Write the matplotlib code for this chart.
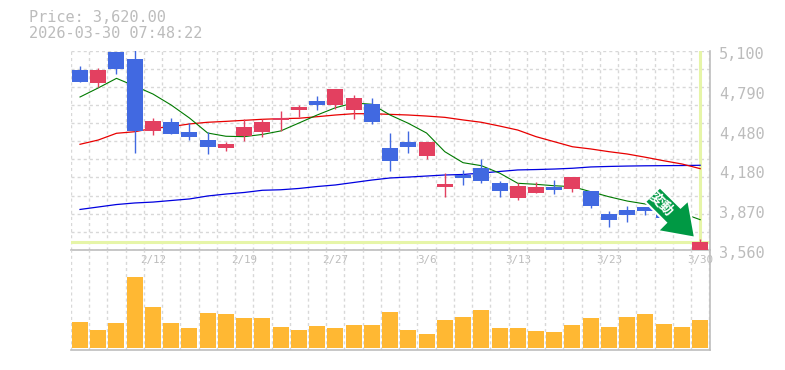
import matplotlib
matplotlib.use('Agg')
import matplotlib.pyplot as plt
from matplotlib.patches import Polygon

W, H = 785, 370

dates = ['2/5', '2/6', '2/9', '2/10', '2/12', '2/13', '2/16', '2/17', '2/18', '2/19',
         '2/20', '2/24', '2/25', '2/26', '2/27', '3/2', '3/3', '3/4', '3/5', '3/6',
         '3/9', '3/10', '3/11', '3/12', '3/13', '3/16', '3/17', '3/18', '3/19', '3/23',
         '3/24', '3/25', '3/26', '3/27', '3/30']
opens = [4950, 4849, 5088, 5034, 4479, 4548, 4471, 4409, 4347, 4440,
         4471, 4564, 4641, 4710, 4679, 4641, 4687, 4347, 4394, 4286,
         4046, 4139, 4193, 4077, 3961, 4000, 4046, 4031, 4015, 3838,
         3869, 3892, 3850, 3720, 3560]
highs = [4980, 4963, 5088, 5104, 4579, 4579, 4540, 4471, 4394, 4571,
         4571, 4633, 4679, 4749, 4803, 4757, 4733, 4463, 4479, 4394,
         4154, 4178, 4262, 4093, 4077, 4085, 4100, 4123, 4015, 3861,
         3900, 3892, 3880, 3800, 3645]
lows = [4857, 4816, 4919, 4309, 4448, 4455, 4409, 4301, 4324, 4401,
        4432, 4476, 4587, 4641, 4648, 4571, 4533, 4170, 4309, 4262,
        3969, 4062, 4077, 3969, 3946, 4000, 3992, 4008, 3884, 3737,
        3776, 3830, 3790, 3700, 3552]
closes = [4857, 4950, 4957, 4479, 4556, 4455, 4432, 4355, 4378, 4509,
          4548, 4577, 4664, 4679, 4803, 4733, 4548, 4247, 4355, 4394,
          4069, 4116, 4093, 4015, 4054, 4046, 4023, 4123, 3900, 3791,
          3830, 3861, 3810, 3780, 3620]
ma_short = [4741, 4811, 4885, 4826, 4764, 4679, 4579, 4463, 4438, 4435,
            4452, 4479, 4540, 4602, 4658, 4695, 4685, 4602, 4538, 4463,
            4319, 4234, 4211, 4154, 4075, 4067, 4056, 4049, 4010, 3971,
            3938, 3915, 3884, 3845, 3794]
ma_mid = [4376, 4409, 4461, 4473, 4499, 4512, 4533, 4546, 4553, 4561,
          4569, 4574, 4577, 4589, 4602, 4612, 4612, 4607, 4602, 4594,
          4584, 4564, 4546, 4517, 4486, 4435, 4396, 4357, 4340, 4319,
          4301, 4276, 4249, 4224, 4188]
ma_long = [3873, 3892, 3911, 3923, 3930, 3942, 3954, 3977, 3992, 4004,
           4021, 4025, 4035, 4050, 4062, 4081, 4100, 4116, 4123, 4131,
           4139, 4143, 4154, 4166, 4178, 4181, 4185, 4191, 4201, 4205,
           4208, 4210, 4211, 4212, 4214]
volumes = [26, 18, 25, 71, 41, 25, 20, 35, 34, 30, 30, 21, 18, 22, 20, 23, 23, 36,
           18, 14, 28, 31, 38, 20, 20, 17, 16, 23, 30, 21, 31, 34, 24, 21, 28]
price_ticks = [5100, 4790, 4480, 4180, 3870, 3560]
last_price = 3620

RED = '#e34060'
BLUE = '#4169e1'
GRID = '#d8d8d8'
EDGE = '#bdbdbd'
TEXT = '#bcbcbc'
HILITE = '#e6f5a8'
ORANGE = '#ffb833'
DASH = (0, (2.2, 2.2))

plt.rcParams['font.family'] = ['DejaVu Sans Mono', 'Noto Sans CJK JP']

fig = plt.figure(figsize=(W / 100, H / 100), dpi=100)


def make_axes(left, top, right, bottom):
    return fig.add_axes([left / W, 1 - bottom / H, (right - left) / W, (bottom - top) / H])


xs = list(range(len(dates)))
# 18.24 px per candle, first candle centre at 80 px, plot from 70.5 to 710
xlim = (-(80 - 70.5) / 18.24, (710 - 80) / 18.24)

ax = make_axes(70.5, 50.5, 710, 250)
ax.set_xlim(*xlim)
ax.set_ylim(3560, 5100)

# grid drawn on candle boundaries, 11 rows in the price panel
grid_x = [i - 0.5 for i in range(len(dates) + 1)]
for gx in grid_x:
    ax.axvline(gx, color=GRID, lw=1, ls=DASH, zorder=1)
for i in range(12):
    ax.axhline(3560 + i * 140, color=GRID, lw=1, ls=DASH, zorder=1)

ax.axhline(last_price, color=HILITE, lw=2.2, zorder=2)
ax.axvline(xs[-1], color=HILITE, lw=2.2, zorder=2)

ax.plot(xs, ma_long, color='#0000e0', lw=0.9, zorder=3)
ax.plot(xs, ma_mid, color='#e80000', lw=0.9, zorder=3)
ax.plot(xs, ma_short, color='#007a00', lw=0.8, zorder=3)

for x, o, h, l, c in zip(xs, opens, highs, lows, closes):
    col = RED if c >= o else BLUE
    ax.vlines(x, l, h, color=col, lw=1, zorder=4)
    ax.bar(x, abs(c - o), bottom=min(o, c), width=16 / 18.24, color=col, zorder=5)

for s in ['top', 'left']:
    ax.spines[s].set_visible(False)
ax.spines['right'].set_color(EDGE)
ax.spines['bottom'].set_color(EDGE)
ax.spines['right'].set_linewidth(1.2)
ax.spines['bottom'].set_linewidth(1.2)
ax.set_xticks([])
ax.set_yticks([])
ax.patch.set_alpha(0)

vax = make_axes(70.5, 250, 710, 350)
vax.set_xlim(*xlim)
vax.set_ylim(-2, 98)
for gx in grid_x:
    vax.axvline(gx, color=GRID, lw=1, ls=DASH, zorder=1)
vax.bar(xs, volumes, width=16 / 18.24, color=ORANGE, zorder=3)
for s in ['top', 'left']:
    vax.spines[s].set_visible(False)
vax.spines['right'].set_color(EDGE)
vax.spines['bottom'].set_color(EDGE)
vax.spines['right'].set_linewidth(1.2)
vax.spines['bottom'].set_linewidth(1.2)
vax.set_xticks([])
vax.set_yticks([])
vax.patch.set_alpha(0)

# labels sit a little under their grid position, same as the original
for p in price_ticks:
    ax.annotate(f'{p:,}', (1, p), xycoords=('axes fraction', 'data'), xytext=(6.5, -2.6),
                textcoords='offset points', color=TEXT, fontsize=11, va='center',
                annotation_clip=False)
for i in range(4, len(dates), 5):
    ax.annotate(dates[i], (i, 0), xycoords=('data', 'axes fraction'), xytext=(0, -7.5),
                textcoords='offset points', color=TEXT, fontsize=7.8, ha='center',
                va='center', annotation_clip=False)

fig.text(29 / W, 1 - 18 / H, f'Price: {last_price:,.2f}', color=TEXT, fontsize=11, va='center')
fig.text(29 / W, 1 - 33 / H, '2026-03-30 07:48:22', color=TEXT, fontsize=11, va='center')

# arrow badge, placed in figure pixels
arrow = [(695, 237.7), (688.3, 200.3), (680.5, 207.5), (660, 187.3), (645, 201.7),
         (666, 222.7), (657.7, 231)]
fig.add_artist(Polygon([(x / W, 1 - y / H) for x, y in arrow], closed=True, facecolor='#009944',
                       edgecolor='white', lw=1.5, transform=fig.transFigure, zorder=10))
fig.text(661 / W, 1 - 204 / H, '変動', color='white', fontsize=10, fontweight='bold',
         rotation=-45, rotation_mode='anchor', ha='center', va='center', zorder=11,
         family=['Noto Sans CJK JP', 'DejaVu Sans'])

fig.savefig('out.png', dpi=100)
